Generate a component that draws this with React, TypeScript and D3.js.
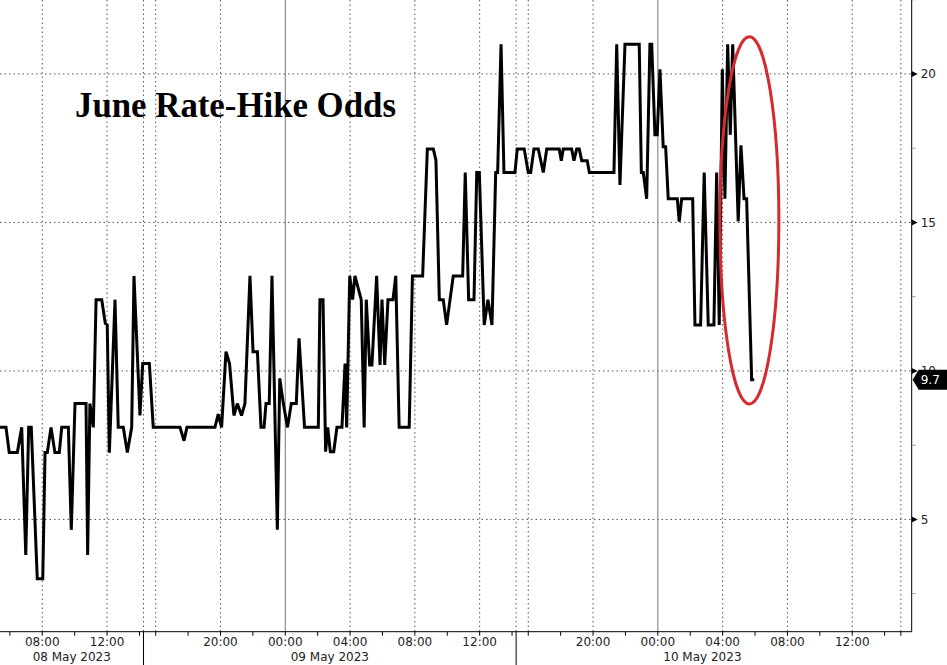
import React from 'react';
import * as d3 from 'd3';

// ---- DATA (hours since 08 May 2023 00:00, value in %) ----
const HOURS = [
  5.39, 5.76, 5.96, 6.46, 6.73, 6.98, 7.16, 7.32, 7.69, 8.03,
  8.17, 8.31, 8.54, 8.78, 9.05, 9.2, 9.61, 9.79, 10.02, 10.7,
  10.8, 10.94, 11.15, 11.32, 11.67, 11.89, 12.01, 12.14, 12.49, 12.69,
  13.0, 13.25, 13.52, 13.66, 14.03, 14.2, 15.61, 15.85, 17.5, 17.75,
  17.93, 19.66, 19.86, 20.07, 20.34, 20.56, 20.83, 21.04, 21.3, 21.51,
  21.82, 22.01, 22.28, 22.5, 22.69, 22.81, 23.01, 23.18, 23.51, 23.66,
  23.88, 24.14, 24.37, 24.68, 24.85, 25.19, 26.04, 26.14, 26.33, 26.49,
  26.62, 26.78, 26.99, 27.19, 27.5, 27.69, 27.79, 27.98, 28.16, 28.3,
  28.69, 28.87, 29.0, 29.21, 29.35, 29.64, 29.85, 29.97, 30.14, 30.34,
  30.65, 30.82, 31.03, 31.65, 31.85, 32.48, 32.77, 33.14, 33.3, 33.51,
  33.75, 33.96, 34.37, 34.95, 35.11, 35.32, 35.65, 35.82, 35.98, 36.28,
  36.51, 36.76, 36.99, 37.11, 37.32, 37.5, 38.18, 39.32, 39.75, 40.0,
  40.15, 40.35, 40.62, 40.93, 41.14, 41.91, 42.04, 42.16, 42.68, 42.82,
  42.99, 43.15, 43.3, 43.64, 43.77, 45.29, 45.46, 45.66, 45.97, 46.85,
  46.98, 47.1, 47.31, 47.51, 47.62, 47.82, 47.96, 48.13, 48.33, 48.48,
  48.64, 49.2, 49.32, 49.47, 50.15, 50.29, 50.64, 50.86, 51.11, 51.46,
  51.63, 51.79, 51.98, 52.14, 52.31, 52.47, 52.62, 52.96, 53.13, 53.32,
  53.48, 53.79, 53.95,
];
const VALUES = [
  8.1, 8.1, 7.25, 7.25, 8.1, 3.8, 8.1, 8.1, 3.0, 3.0,
  7.25, 7.25, 8.1, 7.25, 7.25, 8.1, 8.1, 4.65, 8.9, 8.9,
  3.8, 8.9, 8.1, 12.4, 12.4, 11.6, 11.55, 7.25, 12.4, 8.1,
  8.1, 7.25, 8.1, 13.2, 8.5, 10.25, 10.25, 8.1, 8.1, 7.65,
  8.1, 8.1, 8.55, 8.1, 10.65, 10.25, 8.5, 8.9, 8.5, 8.9,
  13.2, 10.65, 10.65, 8.1, 8.1, 8.9, 8.9, 13.2, 4.65, 9.75,
  8.9, 8.1, 8.9, 8.9, 11.1, 8.1, 8.1, 12.4, 12.4, 7.28,
  8.1, 7.28, 7.28, 8.1, 8.1, 10.25, 8.1, 13.2, 12.4, 13.2,
  12.4, 8.1, 12.4, 10.2, 10.2, 13.2, 10.2, 12.4, 10.2, 12.4,
  12.4, 13.2, 8.1, 8.1, 13.2, 13.2, 17.47, 17.47, 17.1, 12.4,
  12.4, 11.55, 13.2, 13.2, 16.68, 12.4, 12.4, 16.68, 16.68, 11.55,
  12.4, 11.55, 16.68, 16.68, 21.0, 16.68, 16.68, 17.47, 17.47, 16.68,
  16.68, 17.47, 17.47, 16.68, 17.47, 17.47, 17.08, 17.47, 17.47, 17.08,
  17.47, 17.47, 17.08, 17.08, 16.68, 16.68, 21.0, 16.26, 21.0, 21.0,
  16.68, 16.68, 15.8, 21.0, 21.0, 17.95, 17.95, 20.16, 17.55, 17.55,
  15.8, 15.8, 15.03, 15.8, 15.8, 11.55, 11.55, 16.68, 11.55, 11.55,
  16.68, 11.55, 20.16, 15.8, 21.0, 17.95, 21.0, 15.03, 17.6, 15.8,
  15.8, 9.7, 9.7,
];

const TITLE = 'June Rate-Hike Odds';
const Y_TICKS = [5, 10, 15, 20];
const Y_MINOR_TICKS = [2.5, 7.5, 12.5, 17.5, 22.5];
const DAY_LABELS = ['08 May 2023', '09 May 2023', '10 May 2023'];
const LAST_LABEL = '9.7';
// session breaks (hours since 08 May 00:00)
const BREAKS: [number, number][] = [[14.25, 15.25], [38.25, 39.25], [62.25, 63.25]];
const X_START = 5.39;
const X_END = 64.67;
const Y_MIN = 1.22;
const Y_MAX = 22.49;
// annotation ellipse, in data units
const ELLIPSE_CENTER_HOUR = 53.65;
const ELLIPSE_CENTER_VALUE = 15.07;
const ELLIPSE_HALF_HOURS = 1.82;
const ELLIPSE_HALF_VALUE = 6.18;

const W = 947;
const H = 665;
const PLOT_R = 911.7;
const PLOT_B = 631.7;
const FONT = '"DejaVu Sans", Verdana, sans-serif';

const BASE = new Date(2023, 4, 8, 0, 0, 0).getTime();
const toDate = (h: number) => new Date(BASE + h * 3600e3);

function tradingHours(h: number) {
  let t = h;
  for (const [s, e] of BREAKS) {
    if (h > e) t -= e - s;
    else if (h > s) t -= h - s;
  }
  return t;
}

export default function App() {
  const totalTrading = tradingHours(X_END) - tradingHours(X_START);
  const pxPerHour = PLOT_R / totalTrading;
  const domainHours = [X_START, ...BREAKS.flat(), X_END];
  const x = d3
    .scaleTime()
    .domain(domainHours.map(toDate))
    .range(domainHours.map((h) => (tradingHours(h) - tradingHours(X_START)) * pxPerHour));
  const y = d3.scaleLinear().domain([Y_MIN, Y_MAX]).range([PLOT_B, 0]);

  const data = HOURS.map((h, i) => ({ date: toDate(h), v: VALUES[i] }));
  const line = d3
    .line<{ date: Date; v: number }>()
    .x((d) => x(d.date))
    .y((d) => y(d.v));

  const inBreak = (h: number) => BREAKS.some(([s, e]) => h > s && h < e);
  const evenHours = d3.range(6, X_END, 2).filter((h) => !inBreak(h));
  const fmt = d3.timeFormat('%H:%M');
  const fourHours = evenHours.filter((h) => h % 4 === 0);
  const labelHours = fourHours.filter((h) => h % 24 !== 16);

  const breakX = BREAKS.map(([s]) => x(toDate(s)));
  const sessionEdges = [0, ...breakX];
  const dayCenters = DAY_LABELS.map((_, i) => (sessionEdges[i] + sessionEdges[i + 1]) / 2);

  const last = data[data.length - 1];
  const ly = y(last.v);

  const ecx = x(toDate(ELLIPSE_CENTER_HOUR));
  const ecy = y(ELLIPSE_CENTER_VALUE);
  const erx = x(toDate(ELLIPSE_CENTER_HOUR + ELLIPSE_HALF_HOURS)) - ecx;
  const ery = y(ELLIPSE_CENTER_VALUE - ELLIPSE_HALF_VALUE) - ecy;

  return (
    <svg
      width={W}
      height={H}
      style={{ position: 'absolute', left: 0, top: 0, background: '#fff' }}
      fontFamily={FONT}
    >
      <defs>
        <clipPath id="plot">
          <rect x={0} y={0} width={PLOT_R} height={PLOT_B} />
        </clipPath>
      </defs>
      <rect x={0} y={0} width={W} height={H} fill="#fff" />

      {/* horizontal grid */}
      {Y_TICKS.map((t) => (
        <line key={'hg' + t} x1={0} x2={PLOT_R} y1={y(t)} y2={y(t)} stroke="#555" strokeWidth={1} strokeDasharray="1.5,3" />
      ))}
      {/* vertical grid */}
      {fourHours.map((h) =>
        h % 24 === 0 ? (
          <line key={'vg' + h} x1={x(toDate(h))} x2={x(toDate(h))} y1={0} y2={PLOT_B} stroke="#777" strokeWidth={1} />
        ) : (
          <line key={'vg' + h} x1={x(toDate(h))} x2={x(toDate(h))} y1={0} y2={PLOT_B} stroke="#555" strokeWidth={1} strokeDasharray="1.5,3" />
        )
      )}
      {breakX.slice(0, 2).map((bx, i) => (
        <line key={'bg' + i} x1={bx} x2={bx} y1={0} y2={PLOT_B} stroke="#555" strokeWidth={1} strokeDasharray="1.5,3" />
      ))}

      {/* title */}
      <text x={75} y={117} fontFamily='"Liberation Serif", "Times New Roman", serif' fontWeight="bold" fontSize={34.8} fill="#000">
        {TITLE}
      </text>

      {/* series line */}
      <g clipPath="url(#plot)">
        <path d={line(data) || ''} fill="none" stroke="#000" strokeWidth={3} strokeLinejoin="miter" strokeMiterlimit={3} />
      </g>

      {/* red ellipse annotation */}
      <ellipse cx={ecx} cy={ecy} rx={erx} ry={ery} fill="none" stroke="#d42a30" strokeWidth={3} />

      {/* axes frame */}
      <line x1={0} x2={PLOT_R} y1={PLOT_B} y2={PLOT_B} stroke="#000" strokeWidth={1} />
      <line x1={PLOT_R} x2={PLOT_R} y1={0} y2={PLOT_B} stroke="#000" strokeWidth={1} />

      {/* x ticks */}
      {evenHours.map((h) => (
        <line key={'xt' + h} x1={x(toDate(h))} x2={x(toDate(h))} y1={PLOT_B} y2={PLOT_B + 4} stroke="#000" strokeWidth={1} />
      ))}
      {labelHours.map((h) => (
        <text key={'xl' + h} x={x(toDate(h))} y={646} textAnchor="middle" fontSize={12} fill="#222">
          {fmt(toDate(h))}
        </text>
      ))}
      {breakX.slice(0, 2).map((bx, i) => (
        <line key={'ds' + i} x1={bx} x2={bx} y1={PLOT_B} y2={H} stroke="#000" strokeWidth={1} />
      ))}
      {DAY_LABELS.map((d, i) => (
        <text key={d} x={dayCenters[i]} y={661} textAnchor="middle" fontSize={12} fill="#222">
          {d}
        </text>
      ))}

      {/* y axis ticks */}
      {Y_MINOR_TICKS.map((t) => (
        <line key={'ym' + t} x1={PLOT_R} x2={PLOT_R + 4} y1={y(t)} y2={y(t)} stroke="#999" strokeWidth={1} />
      ))}
      {Y_TICKS.map((t) => (
        <g key={'yt' + t}>
          <path d={`M${PLOT_R},${y(t) - 3}L${PLOT_R + 6},${y(t)}L${PLOT_R},${y(t) + 3}Z`} fill="#000" />
          <text x={PLOT_R + 9} y={y(t)} dy="0.35em" fontSize={12} fill="#222">
            {t}
          </text>
        </g>
      ))}

      {/* last value label */}
      <path
        d={`M${PLOT_R + 1},${ly}L${PLOT_R + 7},${ly - 10}L${W},${ly - 10}L${W},${ly + 10}L${PLOT_R + 7},${ly + 10}Z`}
        fill="#000"
      />
      <text x={PLOT_R + 9} y={ly} dy="0.35em" fontSize={12} fill="#fff">
        {LAST_LABEL}
      </text>
    </svg>
  );
}
